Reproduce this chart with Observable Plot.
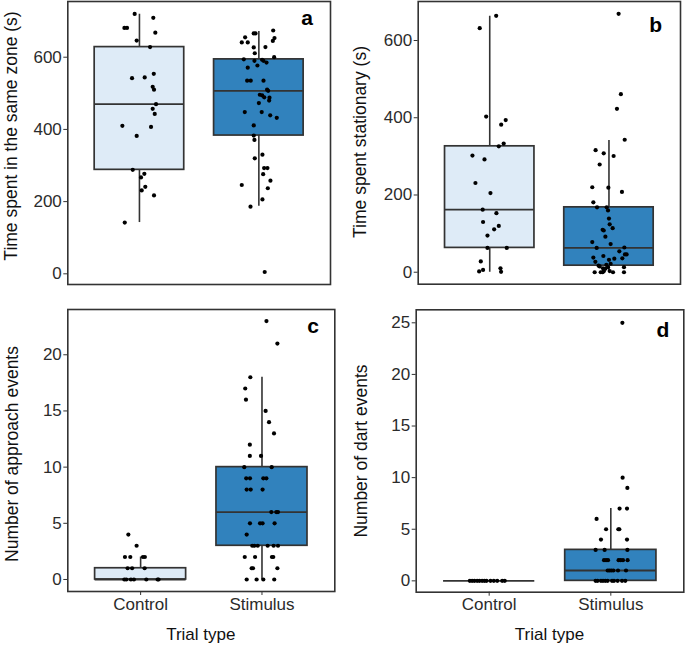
<!DOCTYPE html>
<html>
<head>
<meta charset="utf-8">
<script src="https://cdn.jsdelivr.net/npm/d3@7"></script>
<script src="https://cdn.jsdelivr.net/npm/@observablehq/plot@0.6"></script>
<style>
  html, body { margin: 0; padding: 0; background: #fff; }
  #chart { position: relative; width: 685px; height: 645px; font-family: "Liberation Sans", Arial, sans-serif; }
  #chart > svg { position: absolute; }
</style>
</head>
<body>
<div id="chart"></div>
<script>
// ---- data ----
const categories = ["Control", "Stimulus"];
const groupFills = ["#deebf7", "#3182bd"];
const panelLetters = ["a", "b", "c", "d"];
const yTitles = ["Time spent in the same zone (s)", "Time spent stationary (s)", "Number of approach events", "Number of dart events"];
const xTitle = "Trial type";
const yTicksA = [0, 200, 400, 600];
const yTicksB = [0, 200, 400, 600];
const yTicksC = [0, 5, 10, 15, 20];
const yTicksD = [0, 5, 10, 15, 20, 25];

// box stats: [lower whisker, Q1, median, Q3, upper whisker]
const boxA = [[142, 288, 470, 628, 719], [187, 383, 507, 594, 671]];
const boxB = [[0, 63, 162, 326, 663], [0, 17, 63, 168, 341]];
const boxC = [[0, 0, 0, 1, 2], [0, 3, 6, 10, 18]];
const boxD = [[0, 0, 0, 0, 0], [0, 0, 1, 3, 7]];

// points: [value, horizontal jitter (in category units)]
const ptsA_control = [[720,-0.04],[709,0.116],[681,-0.126],[681,-0.104],[668,0.133],[646,-0.023],[628,0.089],[554,0.12],[542,-0.062],[544,0.044],[518,0.111],[510,0.122],[470,0.139],[457,0.111],[443,0.128],[410,-0.143],[407,0.097],[382,-0.023],[288,-0.056],[277,0.041],[267,0.013],[241,0.049],[231,0.019],[217,0.122],[142,-0.123]];
const ptsA_stimulus = [[674,0.12],[666,-0.043],[666,-0.028],[655,-0.115],[653,0.131],[645,0.117],[641,-0.143],[641,-0.093],[628,0.055],[627,-0.043],[611,-0.034],[600,0.128],[594,-0.126],[590,-0.037],[593,0.027],[590,0.039],[585,0.064],[577,-0.012],[571,-0.093],[535,-0.098],[535,-0.068],[535,0.039],[510,0.069],[507,0.078],[496,0.008],[494,0.028],[489,0.045],[488,0.089],[480,0.086],[473,0],[448,-0.118],[448,0.024],[439,0.095],[432,0.15],[411,-0.043],[383,-0.043],[371,-0.037],[330,0.03],[320,-0.034],[293,0.044],[293,0.072],[276,0.036],[258,0.097],[246,-0.143],[237,0.075],[206,0.03],[186,-0.07],[5,0.049]];
const ptsB_control = [[664,0.054],[632,-0.084],[403,-0.03],[394,0.134],[382,0.096],[333,0.117],[326,0.076],[302,-0.145],[292,-0.044],[231,-0.12],[205,0.006],[162,-0.059],[153,0.056],[130,-0.056],[120,0.076],[111,0.037],[95,-0.019],[63,-0.019],[63,0.143],[28,-0.075],[2,-0.089],[6,-0.056],[10,0.09],[1,0.095]];
const ptsB_stimulus = [[669,0.081],[461,0.1],[423,0.067],[343,0.132],[316,-0.112],[308,-0.044],[301,0.039],[279,-0.078],[220,-0.14],[219,-0.005],[208,0.109],[181,-0.131],[168,-0.1],[168,-0.019],[160,-0.008],[139,0],[124,0.006],[114,0.031],[110,-0.053],[108,-0.044],[92,-0.03],[78,-0.14],[73,0.014],[63,-0.103],[64,0.129],[54,0.087],[46,0.134],[46,0.148],[38,-0.131],[42,-0.047],[36,0.112],[35,0.045],[32,0],[27,-0.114],[17,-0.087],[15,-0.078],[19,-0.022],[13,0.126],[22,0.014],[10,-0.05],[9,-0.03],[13,-0.008],[0,-0.12],[0,-0.069],[0,-0.053],[3,-0.042],[0,0.034],[0,0.126],[3,0.006]];
const ptsC_control = [[4,-0.101],[3,-0.033],[2,-0.129],[2,-0.085],[2,0.019],[2,0.035],[1,-0.107],[1,-0.07],[1,0.033],[0,-0.134],[0,-0.118],[0,-0.08],[0,-0.055],[0,0.047],[0,0.14],[0,0.148]];
const ptsC_stimulus = [[23,0.037],[21,0.127],[18,-0.096],[17,-0.138],[16,-0.132],[15,0.03],[14,0.058],[13,0.099],[12,-0.1],[11,-0.1],[11,-0.008],[10,-0.146],[10,0.08],[9,-0.13],[9,-0.099],[9,0.011],[9,0.036],[8,-0.126],[8,-0.093],[8,0.005],[6,0.077],[6,0.118],[6,0.132],[5,-0.099],[5,-0.016],[5,0.005],[5,0.104],[4,-0.126],[3,-0.08],[3,-0.063],[3,-0.035],[3,0.047],[3,0.096],[3,0.132],[2,-0.142],[2,-0.057],[2,0.082],[2,0.093],[1,-0.085],[1,-0.074],[1,0.127],[0,-0.126],[0,-0.044],[0,0.011],[0,0.101]];
const ptsD_control = [[0,-0.159],[0,-0.14],[0,-0.121],[0,-0.099],[0,-0.08],[0,-0.058],[0,-0.039],[0,-0.022],[0,0.011],[0,0.038],[0,0.066],[0,0.107],[0,0.128]];
const ptsD_stimulus = [[25,0.095],[10,0.097],[9,0.136],[7,0.072],[7,0.133],[6,-0.117],[5,-0.039],[5,0.062],[5,0.07],[4,-0.081],[4,0.133],[3,-0.125],[3,-0.051],[3,0.136],[2,-0.056],[2,-0.039],[2,-0.023],[2,0.064],[2,0.081],[2,0.1],[2,0.138],[1,-0.026],[1,-0.012],[1,0.004],[1,0.021],[1,0.059],[1,0.125],[0,-0.125],[0,-0.109],[0,-0.081],[0,-0.064],[0,-0.045],[0,-0.026],[0,0.01],[0,0.026],[0,0.056],[0,0.092],[0,0.119]];

// ---- drawing ----
const FONT = "Liberation Sans, Arial, sans-serif";
const INK = "#333333";
const BOXW = 0.75;

function panel(cfg) {
  const dots = [];
  cfg.pts.forEach((arr, i) => arr.forEach(([v, j]) => dots.push({x: i + 1 + j, y: v})));
  const boxes = cfg.boxes.map((b, i) => ({i: i + 1, lo: b[0], q1: b[1], med: b[2], q3: b[3], hi: b[4], fill: groupFills[i]}));
  const svg = Plot.plot({
    width: cfg.width, height: cfg.height,
    marginLeft: cfg.ml, marginRight: cfg.mr, marginTop: cfg.mt, marginBottom: cfg.mb,
    style: {fontFamily: FONT, color: INK, background: "transparent", overflow: "visible"},
    x: {type: "linear", domain: [0.4, 2.6], axis: null},
    y: {domain: cfg.domain, axis: null},
    color: {type: "identity"},
    marks: [
      Plot.ruleX(boxes.filter(d => d.hi > d.lo), {x: "i", y1: "lo", y2: "hi", stroke: INK, strokeWidth: 1.6}),
      Plot.rect(boxes.filter(d => d.q3 > d.q1), {x1: d => d.i - BOXW / 2, x2: d => d.i + BOXW / 2, y1: "q1", y2: "q3", fill: "fill", stroke: INK, strokeWidth: 1.7}),
      Plot.ruleY(boxes, {y: "med", x1: d => d.i - BOXW / 2, x2: d => d.i + BOXW / 2, stroke: INK, strokeWidth: 1.8}),
      Plot.dot(dots, {x: "x", y: "y", r: 2.1, fill: "black", stroke: "none"}),
      Plot.frame({stroke: INK, strokeWidth: 1.6}),
      Plot.axisY({ticks: cfg.ticks, tickSize: 4, tickPadding: 2, fontSize: 17, label: null, stroke: INK, fill: "#2b2b2b"}),
      cfg.showX ? Plot.axisX({ticks: [1, 2], tickFormat: d => categories[d - 1], tickSize: 4, tickPadding: 2, fontSize: 17, label: null, stroke: INK, fill: "#2b2b2b"}) : null
    ]
  });
  svg.style.left = cfg.left + "px";
  svg.style.top = cfg.top + "px";
  const s = d3.select(svg);
  s.append("text")
    .attr("transform", `translate(${cfg.ytx},${cfg.yty}) rotate(-90)`)
    .attr("text-anchor", "middle")
    .attr("font-family", FONT).attr("font-size", 17.5).attr("fill", "#111")
    .text(cfg.ytitle);
  s.append("text")
    .attr("x", cfg.lx).attr("y", cfg.ly)
    .attr("text-anchor", "end")
    .attr("font-family", FONT).attr("font-size", 21).attr("font-weight", "bold").attr("fill", "#000")
    .text(cfg.letter);
  if (cfg.showX) {
    s.append("text")
      .attr("x", cfg.xtx).attr("y", cfg.xty)
      .attr("text-anchor", "middle")
      .attr("font-family", FONT).attr("font-size", 17).attr("fill", "#111")
      .text(xTitle);
  }
  return svg;
}

const chart = document.getElementById("chart");
chart.append(panel({
  left: 0, top: 0, width: 342, height: 300, ml: 67.3, mr: 12, mt: 1, mb: 16,
  domain: [-29.6, 754.3], ticks: yTicksA, boxes: boxA, pts: [ptsA_control, ptsA_stimulus],
  ytitle: yTitles[0], ytx: 17, yty: 136, letter: panelLetters[0], lx: 313, ly: 25, showX: false
}));
chart.append(panel({
  left: 342, top: 0, width: 343, height: 300, ml: 75.7, mr: 5, mt: 1, mb: 16.3,
  domain: [-31, 701], ticks: yTicksB, boxes: boxB, pts: [ptsB_control, ptsB_stimulus],
  ytitle: yTitles[1], ytx: 23.5, yty: 142, letter: panelLetters[1], lx: 320, ly: 32, showX: false
}));
chart.append(panel({
  left: 0, top: 300, width: 342, height: 345, ml: 67.3, mr: 7.7, mt: 9, mb: 54,
  domain: [-1.07, 24.03], ticks: yTicksC, boxes: boxC, pts: [ptsC_control, ptsC_stimulus],
  ytitle: yTitles[2], ytx: 17.5, yty: 154, letter: panelLetters[2], lx: 319, ly: 33, showX: true,
  xtx: 200.8, xty: 340
}));
chart.append(panel({
  left: 342, top: 300, width: 343, height: 345, ml: 73.7, mr: 1.7, mt: 9.3, mb: 53.3,
  domain: [-1.1, 26.26], ticks: yTicksD, boxes: boxD, pts: [ptsD_control, ptsD_stimulus],
  ytitle: yTitles[3], ytx: 25, yty: 151, letter: panelLetters[3], lx: 327.3, ly: 36.7, showX: true,
  xtx: 207.5, xty: 340
}));
</script>
</body>
</html>
